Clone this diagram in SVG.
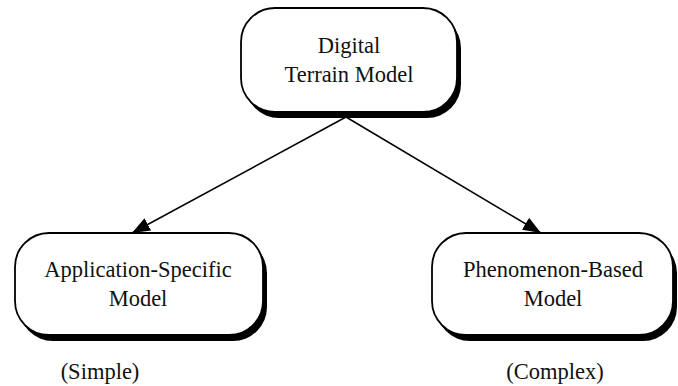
<svg xmlns="http://www.w3.org/2000/svg" width="678" height="386" viewBox="0 0 678 386">
  <defs>
    <marker id="arrowhead" viewBox="0 0 18 14" refX="18" refY="7" markerWidth="18" markerHeight="14" markerUnits="userSpaceOnUse" orient="auto">
      <path d="M0,0 L18,7 L0,14 Z" fill="#000"/>
    </marker>
    <style>
      .shadow { fill: #000; }
      .box { fill: #fff; stroke: #000; stroke-width: 1.8; }
      .label { font-family: "Liberation Serif", "Times New Roman", serif; font-size: 22.5px; fill: #111; text-anchor: middle; }
      .edge { stroke: #000; stroke-width: 1.5; fill: none; }
    </style>
  </defs>
  <rect width="678" height="386" fill="#fff"/>

  <g id="connectors">
    <line class="edge" x1="346" y1="117" x2="132" y2="233" marker-end="url(#arrowhead)"/>
    <line class="edge" x1="346" y1="117" x2="541" y2="233" marker-end="url(#arrowhead)"/>
  </g>

  <g id="node-dtm">
    <rect class="shadow" x="245" y="14" width="216" height="104" rx="34"/>
    <rect class="box" x="241" y="8" width="216" height="104" rx="34"/>
    <text class="label" x="349" y="53">Digital</text>
    <text class="label" x="349" y="82">Terrain Model</text>
  </g>

  <g id="node-application">
    <rect class="shadow" x="19" y="239" width="248" height="102" rx="34"/>
    <rect class="box" x="15" y="233" width="248" height="102" rx="34"/>
    <text class="label" x="138" y="277">Application-Specific</text>
    <text class="label" x="138" y="306">Model</text>
  </g>

  <g id="node-phenomenon">
    <rect class="shadow" x="436" y="239" width="241" height="102" rx="34"/>
    <rect class="box" x="432" y="233" width="241" height="102" rx="34"/>
    <text class="label" x="553" y="277">Phenomenon-Based</text>
    <text class="label" x="553" y="306">Model</text>
  </g>

  <text class="label" x="100" y="379">(Simple)</text>
  <text class="label" x="555" y="379">(Complex)</text>
</svg>
